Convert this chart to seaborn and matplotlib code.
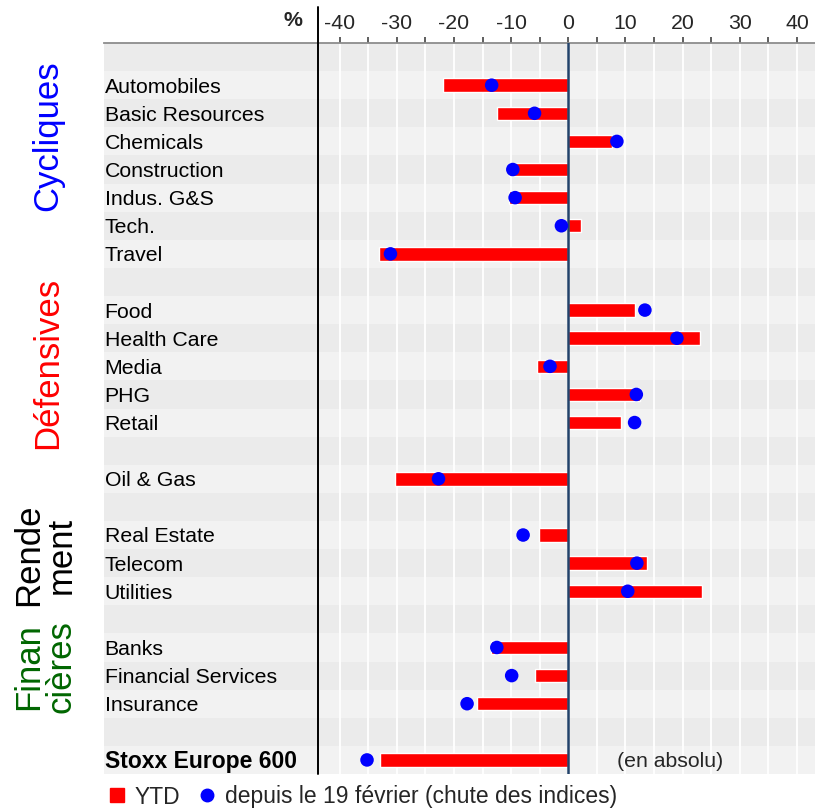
import numpy as np
import pandas as pd
import matplotlib.pyplot as plt
import seaborn as sns
from matplotlib.lines import Line2D

sns.set_style("white")
plt.rcParams["font.family"] = ["Liberation Sans", "DejaVu Sans"]
plt.rcParams["axes.unicode_minus"] = False

# ---------------- DATA ----------------
sectors = ["Automobiles", "Basic Resources", "Chemicals", "Construction", "Indus. G&S", "Tech.", "Travel",
           "Food", "Health Care", "Media", "PHG", "Retail",
           "Oil & Gas",
           "Real Estate", "Telecom", "Utilities",
           "Banks", "Financial Services", "Insurance",
           "Stoxx Europe 600"]
ytd = [-21.9, -12.4, 7.6, -10.4, -10.3, 2.2, -33.1,
       11.7, 23.1, -5.4, 12.6, 9.3,
       -30.3,
       -5.1, 13.7, 23.3,
       -13.6, -5.9, -16.0,
       -32.9]
since_feb19 = [-13.4, -5.9, 8.5, -9.7, -9.3, -1.2, -31.1,
               13.4, 19.0, -3.2, 11.9, 11.6,
               -22.7,
               -7.9, 12.0, 10.4,
               -12.5, -9.9, -17.7,
               -35.2]
block_sizes = [7, 5, 1, 3, 3, 1]   # each block preceded by an empty row
group_names = ["Cycliques", "Défensives", "Rende\nment", "Finan\ncières"]
group_colors = ["#0000ff", "#ff0000", "#000000", "#006600"]

# row positions (blank row before each block)
pos = []
row = 0
for n in block_sizes:
    row += 1
    for _ in range(n):
        pos.append(row)
        row += 1
n_rows = row

df = pd.DataFrame({"sector": sectors, "ytd": ytd, "feb": since_feb19, "pos": pos})

# ---------------- PLOT ----------------
W, H = 815, 809
fig = plt.figure(figsize=(W / 100, H / 100), dpi=100)
ax = fig.add_axes([104 / W, 1 - 774 / H, 711 / W, 731 / H])

X0, X1 = -81.2, 43.15
ax.set_xlim(X0, X1)

for i in range(n_rows):
    ax.axhspan(i - 0.5, i + 0.5, color="#ebebeb" if i % 2 == 0 else "#f2f2f2", lw=0, zorder=0)
for g in np.arange(-40, 41, 5):
    ax.axvline(g, color="white", lw=1.3, zorder=0.5)

sns.barplot(data=df, x="ytd", y="pos", orient="h", native_scale=True, color="#ff0000", saturation=1,
            width=0.48, errorbar=None, ax=ax, zorder=2)
ax.axvline(0, color="#22426a", lw=1.8, zorder=3)
sns.scatterplot(data=df, x="feb", y="pos", color="#0000ff", s=95, edgecolor="none", ax=ax, zorder=4, legend=False)

ax.set_ylim(n_rows - 0.5, -0.5)
ax.set_xlabel("")
ax.set_ylabel("")
ax.set_yticks([])

# left black rule, poking above the header line
ax.plot([-43.7, -43.7], [-1.78, n_rows - 0.5], color="black", lw=1.4, clip_on=False, zorder=5)

# top axis
ax.xaxis.tick_top()
ax.set_xticks(np.arange(-40, 41, 10))
ax.set_xticks(np.arange(-35, 40, 10), minor=True)
ax.tick_params(axis="x", which="both", top=True, bottom=False, direction="out", length=4.5, width=1.1,
               color="#333333", labelsize=15.3, pad=3)
for s in ["left", "right", "bottom"]:
    ax.spines[s].set_visible(False)
ax.spines["top"].set_color("#8c8c8c")
ax.spines["top"].set_linewidth(1.3)

# sector labels
for name, p in zip(sectors, pos):
    bold = name.startswith("Stoxx")
    ax.text(X0 + 0.1, p + 0.07, name, ha="left", va="center", fontsize=16.5 if bold else 15.3,
            fontweight="bold" if bold else "normal", color="black", zorder=6)
ax.text(8.5, pos[-1] + 0.07, "(en absolu)", ha="left", va="center", fontsize=15.3, zorder=6)

# group labels
group_xy = [(48, 136), (48, 363), (45, 555), (45, 667)]
for name, c, (gx, gy) in zip(group_names, group_colors, group_xy):
    fig.text(gx / W, 1 - gy / H, name, rotation=90, ha="center", va="center", fontsize=25,
             color=c, linespacing=1.0, multialignment="center")

fig.text(293 / W, 1 - 20 / H, "%", ha="center", va="center", fontsize=15.3, fontweight="bold")

handles = [Line2D([], [], marker="s", color="#ff0000", linestyle="", markersize=10),
           Line2D([], [], marker="o", color="#0000ff", linestyle="", markersize=9)]
fig.legend(handles, ["YTD", "depuis le 19 février (chute des indices)"], loc="center left",
           bbox_to_anchor=(108 / W, 1 - 797 / H), ncol=2, frameon=False, fontsize=16.5,
           handlelength=0.8, handletextpad=0.35, columnspacing=0.8, borderaxespad=0, borderpad=0)

plt.savefig("out.png", dpi=100)
